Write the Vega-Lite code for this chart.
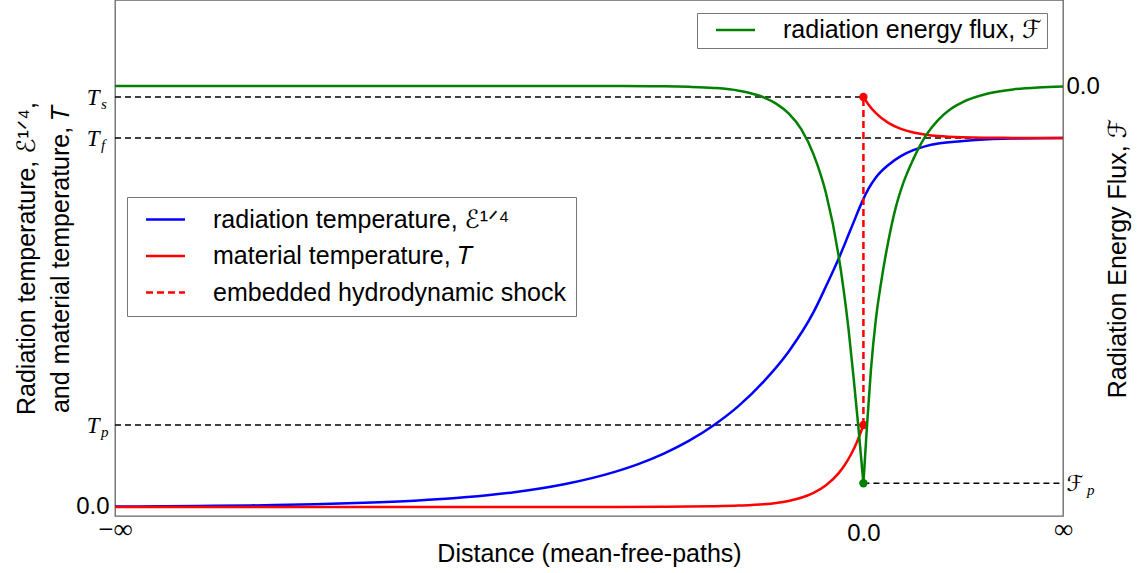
{
  "$schema": "https://vega.github.io/schema/vega-lite/v6.json",
  "width": 948,
  "height": 516,
  "autosize": "none",
  "padding": {"left": 115, "top": 0, "right": 81, "bottom": 57},
  "background": "white",
  "config": {
    "view": {"stroke": "#666666", "strokeWidth": 1.3},
    "axis": {"grid": false, "domain": false, "ticks": false, "labelColor": "black", "titleColor": "black", "titleFont": "Liberation Sans, DejaVu Sans", "titleFontWeight": "normal", "titleFontSize": 25, "labelOverlap": false, "labelFlush": false},
    "legend": {"orient": "none", "title": null, "strokeColor": "#777777", "fillColor": "white", "symbolType": "M-2,0H2", "symbolSize": 380, "symbolStrokeWidth": 2.5, "labelOffset": 35, "labelFont": "Liberation Sans, DejaVu Sans", "labelFontSize": 25, "labelColor": "black", "cornerRadius": 0, "labelLimit": 600}
  },
  "datasets": {
    "temps": [
      {"x": -15, "T": 0.0013, "series": "radiation temperature, ℰ¹ᐟ⁴", "part": "rad"},
      {"x": -14, "T": 0.002, "series": "radiation temperature, ℰ¹ᐟ⁴", "part": "rad"},
      {"x": -13, "T": 0.0031, "series": "radiation temperature, ℰ¹ᐟ⁴", "part": "rad"},
      {"x": -12, "T": 0.0048, "series": "radiation temperature, ℰ¹ᐟ⁴", "part": "rad"},
      {"x": -11, "T": 0.0073, "series": "radiation temperature, ℰ¹ᐟ⁴", "part": "rad"},
      {"x": -10, "T": 0.0112, "series": "radiation temperature, ℰ¹ᐟ⁴", "part": "rad"},
      {"x": -9, "T": 0.0171, "series": "radiation temperature, ℰ¹ᐟ⁴", "part": "rad"},
      {"x": -8, "T": 0.0263, "series": "radiation temperature, ℰ¹ᐟ⁴", "part": "rad"},
      {"x": -7, "T": 0.0401, "series": "radiation temperature, ℰ¹ᐟ⁴", "part": "rad"},
      {"x": -6, "T": 0.0616, "series": "radiation temperature, ℰ¹ᐟ⁴", "part": "rad"},
      {"x": -5, "T": 0.0946, "series": "radiation temperature, ℰ¹ᐟ⁴", "part": "rad"},
      {"x": -4.5, "T": 0.117, "series": "radiation temperature, ℰ¹ᐟ⁴", "part": "rad"},
      {"x": -4, "T": 0.1447, "series": "radiation temperature, ℰ¹ᐟ⁴", "part": "rad"},
      {"x": -3.5, "T": 0.179, "series": "radiation temperature, ℰ¹ᐟ⁴", "part": "rad"},
      {"x": -3, "T": 0.2216, "series": "radiation temperature, ℰ¹ᐟ⁴", "part": "rad"},
      {"x": -2.5, "T": 0.274, "series": "radiation temperature, ℰ¹ᐟ⁴", "part": "rad"},
      {"x": -2, "T": 0.34, "series": "radiation temperature, ℰ¹ᐟ⁴", "part": "rad"},
      {"x": -1.5, "T": 0.421, "series": "radiation temperature, ℰ¹ᐟ⁴", "part": "rad"},
      {"x": -1, "T": 0.528, "series": "radiation temperature, ℰ¹ᐟ⁴", "part": "rad"},
      {"x": -0.75, "T": 0.598, "series": "radiation temperature, ℰ¹ᐟ⁴", "part": "rad"},
      {"x": -0.5, "T": 0.672, "series": "radiation temperature, ℰ¹ᐟ⁴", "part": "rad"},
      {"x": -0.25, "T": 0.754, "series": "radiation temperature, ℰ¹ᐟ⁴", "part": "rad"},
      {"x": 0, "T": 0.835, "series": "radiation temperature, ℰ¹ᐟ⁴", "part": "rad"},
      {"x": 0.1, "T": 0.862, "series": "radiation temperature, ℰ¹ᐟ⁴", "part": "rad"},
      {"x": 0.25, "T": 0.893, "series": "radiation temperature, ℰ¹ᐟ⁴", "part": "rad"},
      {"x": 0.5, "T": 0.927, "series": "radiation temperature, ℰ¹ᐟ⁴", "part": "rad"},
      {"x": 0.75, "T": 0.951, "series": "radiation temperature, ℰ¹ᐟ⁴", "part": "rad"},
      {"x": 1, "T": 0.967, "series": "radiation temperature, ℰ¹ᐟ⁴", "part": "rad"},
      {"x": 1.25, "T": 0.978, "series": "radiation temperature, ℰ¹ᐟ⁴", "part": "rad"},
      {"x": 1.5, "T": 0.985, "series": "radiation temperature, ℰ¹ᐟ⁴", "part": "rad"},
      {"x": 2, "T": 0.992, "series": "radiation temperature, ℰ¹ᐟ⁴", "part": "rad"},
      {"x": 2.5, "T": 0.9965, "series": "radiation temperature, ℰ¹ᐟ⁴", "part": "rad"},
      {"x": 3, "T": 0.9985, "series": "radiation temperature, ℰ¹ᐟ⁴", "part": "rad"},
      {"x": 4, "T": 1.0, "series": "radiation temperature, ℰ¹ᐟ⁴", "part": "rad"},
      {"x": -15, "T": 0, "series": "material temperature, 𝑇", "part": "up"},
      {"x": -8, "T": 0, "series": "material temperature, 𝑇", "part": "up"},
      {"x": -6, "T": 0.0001, "series": "material temperature, 𝑇", "part": "up"},
      {"x": -5, "T": 0.0002, "series": "material temperature, 𝑇", "part": "up"},
      {"x": -4, "T": 0.0006, "series": "material temperature, 𝑇", "part": "up"},
      {"x": -3.5, "T": 0.0012, "series": "material temperature, 𝑇", "part": "up"},
      {"x": -3, "T": 0.0022, "series": "material temperature, 𝑇", "part": "up"},
      {"x": -2.5, "T": 0.004, "series": "material temperature, 𝑇", "part": "up"},
      {"x": -2, "T": 0.0075, "series": "material temperature, 𝑇", "part": "up"},
      {"x": -1.75, "T": 0.011, "series": "material temperature, 𝑇", "part": "up"},
      {"x": -1.5, "T": 0.0165, "series": "material temperature, 𝑇", "part": "up"},
      {"x": -1.25, "T": 0.025, "series": "material temperature, 𝑇", "part": "up"},
      {"x": -1, "T": 0.0385, "series": "material temperature, 𝑇", "part": "up"},
      {"x": -0.75, "T": 0.059, "series": "material temperature, 𝑇", "part": "up"},
      {"x": -0.5, "T": 0.0911, "series": "material temperature, 𝑇", "part": "up"},
      {"x": -0.375, "T": 0.1139, "series": "material temperature, 𝑇", "part": "up"},
      {"x": -0.25, "T": 0.1423, "series": "material temperature, 𝑇", "part": "up"},
      {"x": -0.125, "T": 0.1778, "series": "material temperature, 𝑇", "part": "up"},
      {"x": 0, "T": 0.2222, "series": "material temperature, 𝑇", "part": "up"},
      {"x": 0, "T": 1.1111, "series": "material temperature, 𝑇", "part": "down"},
      {"x": 0.1, "T": 1.091, "series": "material temperature, 𝑇", "part": "down"},
      {"x": 0.25, "T": 1.0674, "series": "material temperature, 𝑇", "part": "down"},
      {"x": 0.5, "T": 1.0409, "series": "material temperature, 𝑇", "part": "down"},
      {"x": 0.75, "T": 1.0248, "series": "material temperature, 𝑇", "part": "down"},
      {"x": 1, "T": 1.015, "series": "material temperature, 𝑇", "part": "down"},
      {"x": 1.25, "T": 1.0091, "series": "material temperature, 𝑇", "part": "down"},
      {"x": 1.5, "T": 1.0055, "series": "material temperature, 𝑇", "part": "down"},
      {"x": 2, "T": 1.002, "series": "material temperature, 𝑇", "part": "down"},
      {"x": 2.5, "T": 1.00075, "series": "material temperature, 𝑇", "part": "down"},
      {"x": 3, "T": 1.0003, "series": "material temperature, 𝑇", "part": "down"},
      {"x": 4, "T": 1.0, "series": "material temperature, 𝑇", "part": "down"}
    ],
    "shock": [
      {"x": 0, "T": 0.2222, "series": "embedded hydrodynamic shock"},
      {"x": 0, "T": 1.1111, "series": "embedded hydrodynamic shock"}
    ],
    "tempDots": [
      {"x": 0, "T": 1.1111},
      {"x": 0, "T": 0.2222}
    ],
    "tempRefs": [
      {"x": -15, "x2": 0, "T": 1.1111},
      {"x": -15, "x2": 4, "T": 1.0},
      {"x": -15, "x2": 0, "T": 0.2222}
    ],
    "tempSubs": [
      {"x": -15, "T": 1.1111, "sub": "s"},
      {"x": -15, "T": 1.0, "sub": "f"},
      {"x": -15, "T": 0.2222, "sub": "p"}
    ],
    "flux": [
      {"x": -15, "F": 0, "series": "radiation energy flux, ℱ", "part": "l"},
      {"x": -6, "F": 0, "series": "radiation energy flux, ℱ", "part": "l"},
      {"x": -5, "F": -0.0001, "series": "radiation energy flux, ℱ", "part": "l"},
      {"x": -4, "F": -0.0008, "series": "radiation energy flux, ℱ", "part": "l"},
      {"x": -3.5, "F": -0.002, "series": "radiation energy flux, ℱ", "part": "l"},
      {"x": -3, "F": -0.0048, "series": "radiation energy flux, ℱ", "part": "l"},
      {"x": -2.5, "F": -0.0117, "series": "radiation energy flux, ℱ", "part": "l"},
      {"x": -2, "F": -0.0284, "series": "radiation energy flux, ℱ", "part": "l"},
      {"x": -1.75, "F": -0.0443, "series": "radiation energy flux, ℱ", "part": "l"},
      {"x": -1.5, "F": -0.069, "series": "radiation energy flux, ℱ", "part": "l"},
      {"x": -1.25, "F": -0.108, "series": "radiation energy flux, ℱ", "part": "l"},
      {"x": -1, "F": -0.172, "series": "radiation energy flux, ℱ", "part": "l"},
      {"x": -0.75, "F": -0.27, "series": "radiation energy flux, ℱ", "part": "l"},
      {"x": -0.5, "F": -0.425, "series": "radiation energy flux, ℱ", "part": "l"},
      {"x": -0.4, "F": -0.51, "series": "radiation energy flux, ℱ", "part": "l"},
      {"x": -0.3, "F": -0.61, "series": "radiation energy flux, ℱ", "part": "l"},
      {"x": -0.2, "F": -0.73, "series": "radiation energy flux, ℱ", "part": "l"},
      {"x": -0.1, "F": -0.86, "series": "radiation energy flux, ℱ", "part": "l"},
      {"x": 0, "F": -1, "series": "radiation energy flux, ℱ", "part": "l"},
      {"x": 0, "F": -1, "series": "radiation energy flux, ℱ", "part": "r"},
      {"x": 0.07, "F": -0.858, "series": "radiation energy flux, ℱ", "part": "r"},
      {"x": 0.15, "F": -0.715, "series": "radiation energy flux, ℱ", "part": "r"},
      {"x": 0.25, "F": -0.587, "series": "radiation energy flux, ℱ", "part": "r"},
      {"x": 0.35, "F": -0.498, "series": "radiation energy flux, ℱ", "part": "r"},
      {"x": 0.5, "F": -0.39, "series": "radiation energy flux, ℱ", "part": "r"},
      {"x": 0.65, "F": -0.305, "series": "radiation energy flux, ℱ", "part": "r"},
      {"x": 0.8, "F": -0.244, "series": "radiation energy flux, ℱ", "part": "r"},
      {"x": 1, "F": -0.184, "series": "radiation energy flux, ℱ", "part": "r"},
      {"x": 1.25, "F": -0.125, "series": "radiation energy flux, ℱ", "part": "r"},
      {"x": 1.5, "F": -0.085, "series": "radiation energy flux, ℱ", "part": "r"},
      {"x": 1.75, "F": -0.058, "series": "radiation energy flux, ℱ", "part": "r"},
      {"x": 2, "F": -0.04, "series": "radiation energy flux, ℱ", "part": "r"},
      {"x": 2.5, "F": -0.019, "series": "radiation energy flux, ℱ", "part": "r"},
      {"x": 3, "F": -0.0085, "series": "radiation energy flux, ℱ", "part": "r"},
      {"x": 3.5, "F": -0.0035, "series": "radiation energy flux, ℱ", "part": "r"},
      {"x": 4, "F": -0.0012, "series": "radiation energy flux, ℱ", "part": "r"}
    ],
    "fluxDot": [{"x": 0, "F": -1}],
    "fluxRef": [{"x": 0, "x2": 4, "F": -1}],
    "fluxSub": [{"x": 4, "F": -1, "sub": "p"}]
  },
  "layer": [
    {
      "encoding": {
        "x": {
          "field": "x", "type": "quantitative",
          "scale": {"domain": [-15, 4], "nice": false, "zero": false},
          "axis": {
            "orient": "bottom", "values": [-15, 0, 4],
            "labelExpr": "datum.value == 0 ? '0.0' : (datum.value < 0 ? '−∞' : '∞')",
            "labelFont": {"condition": {"test": "datum.value == 0", "value": "Liberation Sans"}, "value": "Liberation Serif"},
            "labelFontSize": {"condition": {"test": "datum.value == 0", "value": 24}, "value": 27},
            "labelBaseline": "top",
            "labelPadding": {"condition": {"test": "datum.value == 0", "value": 5}, "value": 0},
            "title": "Distance (mean-free-paths)", "titlePadding": -4
          }
        },
        "y": {
          "field": "T", "type": "quantitative",
          "scale": {"domain": [-0.0244, 1.374], "nice": false, "zero": false},
          "axis": {
            "orient": "left", "values": [0, 0.2222, 1, 1.1111],
            "labelExpr": "datum.value == 0 ? '0.0' : 'T'",
            "labelFont": {"condition": {"test": "datum.value == 0", "value": "Liberation Sans"}, "value": "Liberation Serif"},
            "labelFontStyle": {"condition": {"test": "datum.value == 0", "value": "normal"}, "value": "italic"},
            "labelFontSize": {"condition": {"test": "datum.value == 0", "value": 24}, "value": 23},
            "labelPadding": {"condition": {"test": "datum.value == 0", "value": 6}, "value": 16},
            "title": ["Radiation temperature, ℰ¹ᐟ⁴,", "and material temperature, 𝑇"],
            "titleLineHeight": 34, "titlePadding": 2
          }
        }
      },
      "layer": [
        {
          "data": {"name": "tempRefs"},
          "mark": {"type": "rule", "color": "black", "strokeWidth": 1.5, "strokeDash": [6, 4]},
          "encoding": {"x2": {"field": "x2"}}
        },
        {
          "data": {"name": "temps"},
          "mark": {"type": "line", "strokeWidth": 2.5, "interpolate": "monotone"},
          "encoding": {
            "color": {
              "field": "series", "type": "nominal",
              "scale": {"domain": ["radiation temperature, ℰ¹ᐟ⁴", "material temperature, 𝑇", "embedded hydrodynamic shock"], "range": ["#0000ff", "#ff0000", "#ff0000"]},
              "legend": {
                "legendX": 12, "legendY": 197, "padding": 10, "symbolOffset": 16, "rowPadding": 10.5,
                "encode": {"symbols": {"update": {"strokeDash": {"signal": "datum.value === 'embedded hydrodynamic shock' ? [7, 4] : [1, 0]"}}}}
              }
            },
            "detail": {"field": "part"}
          }
        },
        {
          "data": {"name": "shock"},
          "mark": {"type": "line", "strokeWidth": 2.5, "strokeDash": [7, 4]},
          "encoding": {"color": {"field": "series", "type": "nominal"}}
        },
        {
          "data": {"name": "tempDots"},
          "mark": {"type": "point", "filled": true, "color": "#ff0000", "size": 70, "opacity": 1}
        },
        {
          "data": {"name": "tempSubs"},
          "mark": {"type": "text", "align": "left", "baseline": "middle", "dx": -14, "dy": 7, "font": "Liberation Serif", "fontStyle": "italic", "fontSize": 15, "color": "black"},
          "encoding": {"text": {"field": "sub"}}
        }
      ]
    },
    {
      "encoding": {
        "x": {
          "field": "x", "type": "quantitative",
          "scale": {"domain": [-15, 4], "nice": false, "zero": false},
          "axis": {
            "orient": "bottom", "values": [-15, 0, 4],
            "labelExpr": "datum.value == 0 ? '0.0' : (datum.value < 0 ? '−∞' : '∞')",
            "labelFont": {"condition": {"test": "datum.value == 0", "value": "Liberation Sans"}, "value": "Liberation Serif"},
            "labelFontSize": {"condition": {"test": "datum.value == 0", "value": 24}, "value": 27},
            "labelBaseline": "top",
            "labelPadding": {"condition": {"test": "datum.value == 0", "value": 5}, "value": 0},
            "title": "Distance (mean-free-paths)", "titlePadding": -4
          }
        },
        "y": {
          "field": "F", "type": "quantitative",
          "scale": {"domain": [-1.0823, 0.2165], "nice": false, "zero": false},
          "axis": {
            "orient": "right", "values": [-1, 0],
            "labelExpr": "datum.value == 0 ? '0.0' : 'ℱ'",
            "labelFont": {"condition": {"test": "datum.value == 0", "value": "Liberation Sans"}, "value": "DejaVu Sans"},
            "labelFontSize": {"condition": {"test": "datum.value == 0", "value": 24}, "value": 22},
            "labelPadding": 3,
            "title": "Radiation Energy Flux, ℱ",
            "titleAngle": 270, "titleBaseline": "top", "titlePadding": 6
          }
        }
      },
      "layer": [
        {
          "data": {"name": "fluxRef"},
          "mark": {"type": "rule", "color": "black", "strokeWidth": 1.5, "strokeDash": [6, 4]},
          "encoding": {"x2": {"field": "x2"}}
        },
        {
          "data": {"name": "flux"},
          "mark": {"type": "line", "strokeWidth": 2.5, "interpolate": "monotone"},
          "encoding": {
            "color": {
              "field": "series", "type": "nominal",
              "scale": {"domain": ["radiation energy flux, ℱ"], "range": ["#008000"]},
              "legend": {"legendX": 582, "legendY": 13, "padding": 4.5, "symbolOffset": 21.5}
            },
            "detail": {"field": "part"}
          }
        },
        {
          "data": {"name": "fluxDot"},
          "mark": {"type": "point", "filled": true, "color": "#008000", "size": 70, "opacity": 1}
        },
        {
          "data": {"name": "fluxSub"},
          "mark": {"type": "text", "align": "left", "baseline": "middle", "dx": 24, "dy": 7, "font": "Liberation Serif", "fontStyle": "italic", "fontSize": 15, "color": "black"},
          "encoding": {"text": {"field": "sub"}}
        }
      ]
    }
  ],
  "resolve": {
    "scale": {"y": "independent", "color": "independent"},
    "axis": {"y": "independent"},
    "legend": {"color": "independent"}
  }
}
